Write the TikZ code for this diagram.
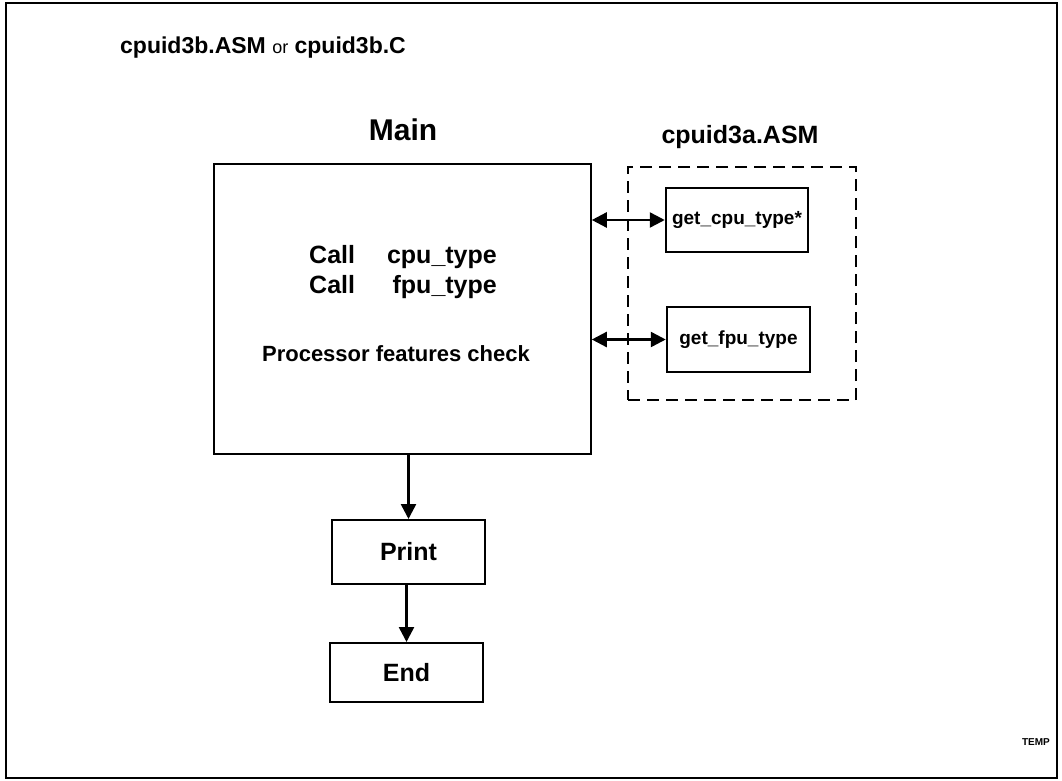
\documentclass[tikz,border=0pt]{standalone}
\usepackage{fontspec}
\setmainfont{Liberation Sans}
\usetikzlibrary{arrows.meta}
\newcommand{\fsz}[1]{\fontsize{#1}{#1}\selectfont}
\begin{document}
\begin{tikzpicture}[x=1pt,y=-1pt,
  box/.style={draw, line width=2pt, inner sep=0pt, font=\bfseries\fsz{25}},
  smallbox/.style={draw, line width=2.5pt, inner sep=0pt, font=\bfseries\fsz{19}},
  tip/.tip={Triangle[length=15pt,width=15pt]},
  arr/.style={line width=2.5pt, -tip},
  darr/.style={line width=2.5pt, tip-tip},
  lbl/.style={font=\bfseries, inner sep=0pt}]
\useasboundingbox (0,0) rectangle (1062,781);
% outer frame
\node[draw, line width=2pt, minimum width=1051pt, minimum height=775pt, inner sep=0pt] (frame) at (531.5,390.5) {};
% titles
\node[lbl, anchor=base west] (title) at (120,54) {\fsz{23}cpuid3b.ASM {\mdseries\fsz{18}or} cpuid3b.C};
\node[lbl, anchor=base] (mainlbl) at (403,140) {\fsz{30}Main};
\node[lbl, anchor=base] (asmlbl) at (740,143) {\fsz{25}cpuid3a.ASM};
% main box
\node[draw, line width=1.6pt, minimum width=377pt, minimum height=290pt, inner sep=0pt] (main) at (402.5,309) {};
\node[lbl, anchor=base west] (call1) at (309,263) {\fsz{25}Call};
\node[lbl, anchor=base east] (cpu) at (497,263) {\fsz{25}cpu\_type};
\node[lbl, anchor=base west] (call2) at (309,293) {\fsz{25}Call};
\node[lbl, anchor=base east] (fpu) at (497,293) {\fsz{25}fpu\_type};
\node[lbl, anchor=base] (proc) at (396,361) {\fsz{22}Processor features check};
% dashed container
\node[draw, line width=2.5pt, dash pattern=on 12pt off 7pt, minimum width=228pt, minimum height=233pt, inner sep=0pt] (asm) at (742,283.5) {};
\node[smallbox, minimum width=142pt, minimum height=64pt] (gcpu) at (737,220) {get\_cpu\_type*};
\node[smallbox, minimum width=143pt, minimum height=65pt] (gfpu) at (738.5,339.5) {get\_fpu\_type};
% print / end
\node[box, minimum width=153pt, minimum height=64pt] (print) at (408.5,552) {Print};
\node[box, minimum width=153pt, minimum height=59pt] (end) at (406.5,672.5) {End};
% TEMP
\node[lbl, anchor=base east] (temp) at (1050,745) {\fsz{10}TEMP};
% connectors
\draw[darr] (main.east |- gcpu.west) -- (gcpu.west);
\draw[darr] (main.east |- gfpu.west) -- (gfpu.west);
\draw[arr] (print.north |- main.south) -- (print.north);
\draw[arr] (end.north |- print.south) -- (end.north);
\end{tikzpicture}
\end{document}
